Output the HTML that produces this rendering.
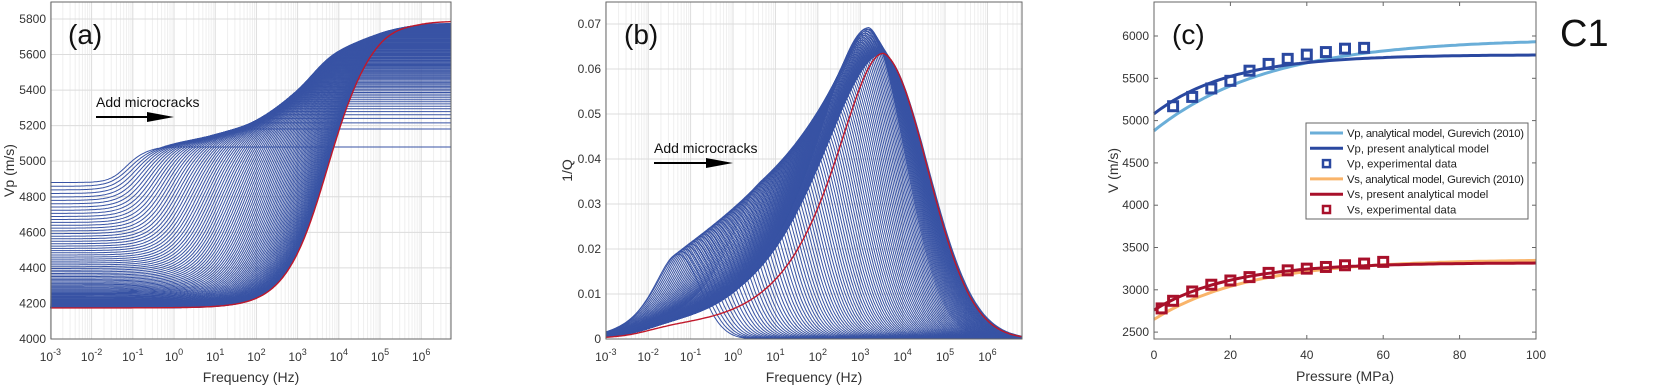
<!DOCTYPE html>
<html><head><meta charset="utf-8">
<style>
html,body{margin:0;padding:0;background:#fff;}
svg{display:block;font-family:"Liberation Sans",Arial,sans-serif;}
</style></head>
<body>
<svg id="s" width="1667" height="387" viewBox="0 0 1667 387" xmlns="http://www.w3.org/2000/svg"></svg>
<script>
const S=document.getElementById('s');let h='';
const BL='#3853a4';
function logistic(x){return 1/(1+Math.exp(-x));}
function softmin(a,b,k){return -k*Math.log(Math.exp(-a/k)+Math.exp(-b/k));}
function cr(vals,x0,x){let u=x-x0;if(u<=0)return vals[0];if(u>=vals.length-1)return vals[vals.length-1];
 const i=Math.floor(u),f=u-i;const p0=vals[Math.max(0,i-1)],p1=vals[i],p2=vals[i+1],p3=vals[Math.min(vals.length-1,i+2)];
 return 0.5*((2*p1)+(-p0+p2)*f+(2*p0-5*p1+4*p2-p3)*f*f+(-p0+3*p1-3*p2+p3)*f*f*f);}
// ---------- Panel (a) ----------
(function(){
 const L=51,R=451,T=2,B=339;
 const X=lf=>174+lf*41.2, Y=v=>339-(v-4000)*0.1778;
 for(let d=-3;d<7;d++){for(let k=1;k<10;k++){const x=X(d+Math.log10(k));if(x>R)break;
  h+=`<line x1="${x}" y1="${T}" x2="${x}" y2="${B}" stroke="${k==1?'#dcdcdc':'#efefef'}" stroke-width="1"/>`;}}
 for(let v=4000;v<=5800;v+=200){h+=`<line x1="${L}" y1="${Y(v)}" x2="${R}" y2="${Y(v)}" stroke="#dcdcdc"/>`;
  h+=`<text x="${L-5}" y="${Y(v)+4}" font-size="12" fill="#333" text-anchor="end">${v}</text>`;}
 for(let d=-3;d<=6;d++){h+=`<text x="${X(d)}" y="${B+22}" font-size="12" fill="#333" text-anchor="middle">10<tspan dy="-6" font-size="9">${d}</tspan></text>`;}
 const lmax=(R-174)/41.2;
 const EV=[5000,5025,5050,5100,5150,5230,5400,5650,5775,5790,5790];
 const N=100;
 for(let i=0;i<=N;i++){const t=i/N;
  const lo=4175+705*Math.pow(1-t,3), hi=5080+700*Math.pow(t,0.42);
  const c=-1.2+4.8*(1-Math.pow(1-t,1.5)), w=0.2+0.35*Math.sqrt(t);
  let p='';for(let lf=-3;lf<=lmax+0.001;lf+=0.04){
   const e=cr(EV,-3,lf);
   let v=lo+(e-lo)*logistic((lf-c)/w);
   if(i<N)v=softmin(v,hi,8);
   p+=(p?'L':'M')+X(lf).toFixed(1)+','+Y(v).toFixed(1);}
  h+=`<path d="${p}" fill="none" stroke="${i==N?'#c0182a':BL}" stroke-width="${i==N?1.4:1}"/>`;}
 h+=`<rect x="${L}" y="${T}" width="${R-L}" height="${B-T}" fill="none" stroke="#666"/>`;
 h+=`<text x="68" y="44" font-size="28" fill="#111">(a)</text>`;
 h+=`<text x="96" y="107" font-size="14" fill="#111">Add microcracks</text>`;
 h+=`<line x1="96" y1="117" x2="162" y2="117" stroke="#000" stroke-width="2"/><polygon points="174,117 147,112 147,122" fill="#000"/>`;
 h+=`<text x="${(L+R)/2}" y="382" font-size="14" fill="#333" text-anchor="middle">Frequency (Hz)</text>`;
 h+=`<text transform="translate(14,${(T+B)/2}) rotate(-90)" font-size="14" fill="#333" text-anchor="middle">Vp (m/s)</text>`;
})();
// ---------- Panel (b) ----------
(function(){
 const L=606,R=1022,T=2,B=339;
 const X=lf=>733+lf*42.4, Y=v=>339-v*4500;
 for(let d=-3;d<7;d++){for(let k=1;k<10;k++){const x=X(d+Math.log10(k));if(x>R)break;
  h+=`<line x1="${x}" y1="${T}" x2="${x}" y2="${B}" stroke="${k==1?'#dcdcdc':'#efefef'}"/>`;}}
 for(let i=0;i<=7;i++){const v=i/100;h+=`<line x1="${L}" y1="${Y(v)}" x2="${R}" y2="${Y(v)}" stroke="#dcdcdc"/>`;
  h+=`<text x="${L-5}" y="${Y(v)+4}" font-size="12" fill="#333" text-anchor="end">${i==0?'0':v.toFixed(2)}</text>`;}
 for(let d=-3;d<=6;d++){h+=`<text x="${X(d)}" y="${B+22}" font-size="12" fill="#333" text-anchor="middle">10<tspan dy="-6" font-size="9">${d}</tspan></text>`;}
 const lmax=(R-733)/42.4;
 function Pk(c){if(c<=3.2)return 0.027+0.0068*c+0.0008*c*c+0.0003*c*c*c;return 0.0668-(c-3.2)/0.35*0.0058;}
 const N=120;
 for(let i=0;i<=N;i++){const t=i/N;const red=i==N;
  const c=-1.3+4.85*(1-Math.pow(1-t,2));
  const P=red?0.061:Pk(c);
  const kl=red?0.95:1.9-1.2*Math.sqrt(t), kr=red?0.95:1.9-0.98*t;
  let p='';for(let lf=-3;lf<=lmax+0.001;lf+=0.04){const d=lf-c;
   let v=d<0?P/Math.cosh(kl*d):P*Math.exp(-(kr*d)*(kr*d)/2);
   v+=0.0025*logistic((lf+2)/0.35)*Math.exp(-Math.max(0,lf-c)/0.6)*(red?1:Math.min(1,t*4));
   p+=(p?'L':'M')+X(lf).toFixed(1)+','+Y(v).toFixed(1);}
  h+=`<path d="${p}" fill="none" stroke="${red?'#c0182a':BL}" stroke-width="${red?1.4:1}"/>`;}
 h+=`<rect x="${L}" y="${T}" width="${R-L}" height="${B-T}" fill="none" stroke="#666"/>`;
 h+=`<text x="624" y="44" font-size="28" fill="#111">(b)</text>`;
 h+=`<text x="654" y="153" font-size="14" fill="#111">Add microcracks</text>`;
 h+=`<line x1="654" y1="163" x2="720" y2="163" stroke="#000" stroke-width="2"/><polygon points="733,163 706,158 706,168" fill="#000"/>`;
 h+=`<text x="${(L+R)/2}" y="382" font-size="14" fill="#333" text-anchor="middle">Frequency (Hz)</text>`;
 h+=`<text transform="translate(572,${(T+B)/2}) rotate(-90)" font-size="14" fill="#333" text-anchor="middle">1/Q</text>`;
})();
// ---------- Panel (c) ----------
(function(){
 const L=1154,R=1536,T=2,B=339;
 const X=p=>L+p*3.82, Y=v=>36+(6000-v)*0.0846;
 for(let v=2500;v<=6000;v+=500){h+=`<text x="${L-5}" y="${Y(v)+4}" font-size="12" fill="#333" text-anchor="end">${v}</text>`;
  h+=`<line x1="${L}" y1="${Y(v)}" x2="${L+4}" y2="${Y(v)}" stroke="#666"/><line x1="${R-4}" y1="${Y(v)}" x2="${R}" y2="${Y(v)}" stroke="#666"/>`;}
 for(let p=0;p<=100;p+=20){h+=`<text x="${X(p)}" y="${B+20}" font-size="12" fill="#333" text-anchor="middle">${p}</text>`;
  h+=`<line x1="${X(p)}" y1="${B}" x2="${X(p)}" y2="${B-4}" stroke="#666"/><line x1="${X(p)}" y1="${T}" x2="${X(p)}" y2="${T+4}" stroke="#666"/>`;}
 function curve(f,col){let p='';for(let q=0;q<=100;q+=1){p+=(p?'L':'M')+X(q).toFixed(1)+','+Y(f(q)).toFixed(1);}h+=`<path d="${p}" fill="none" stroke="${col}" stroke-width="3"/>`;}
 curve(q=>4880+1090*(1-Math.exp(-q/30)),'#6aaed8');
 curve(q=>5080+700*(1-Math.exp(-q/20)),'#2a48a0');
 curve(q=>2650+710*(1-Math.exp(-q/25)),'#f9b46a');
 curve(q=>2760+560*(1-Math.exp(-q/20)),'#a8102a');
 function sq(q,v,col){const x=X(q),y=Y(v);h+=`<rect x="${x-4.5}" y="${y-4.5}" width="9" height="9" fill="none" stroke="${col}" stroke-width="3"/>`;}
 [[5,5170],[10,5280],[15,5380],[20,5470],[25,5590],[30,5670],[35,5730],[40,5780],[45,5810],[50,5850],[55,5860]].forEach(a=>sq(a[0],a[1],'#2a48a0'));
 [[2,2780],[5,2870],[10,2980],[15,3060],[20,3110],[25,3150],[30,3200],[35,3230],[40,3250],[45,3270],[50,3290],[55,3310],[60,3330]].forEach(a=>sq(a[0],a[1],'#a8102a'));
 h+=`<rect x="${L}" y="${T}" width="${R-L}" height="${B-T}" fill="none" stroke="#666"/>`;
 h+=`<rect x="1306" y="123" width="222" height="96" fill="#fff" stroke="#666"/>`;
 const ent=[['l','#6aaed8','Vp, analytical model, Gurevich (2010)'],['l','#2a48a0','Vp, present analytical model'],['s','#2a48a0','Vp, experimental data'],['l','#f9b46a','Vs, analytical model, Gurevich (2010)'],['l','#a8102a','Vs, present analytical model'],['s','#a8102a','Vs, experimental data']];
 ent.forEach((e,i)=>{const y=133+i*15.3;
  if(e[0]=='l')h+=`<line x1="1310" y1="${y}" x2="1343" y2="${y}" stroke="${e[1]}" stroke-width="3"/>`;
  else h+=`<rect x="1323" y="${y-3.5}" width="7" height="7" fill="none" stroke="${e[1]}" stroke-width="2.5"/>`;
  const tl=(i==0||i==3)?' textLength="177"':'';
  h+=`<text x="1347" y="${y+4}" font-size="11.3" fill="#222"${tl}>${e[2]}</text>`;});
 h+=`<text x="1172" y="44" font-size="28" fill="#111">(c)</text>`;
 h+=`<text x="${(L+R)/2}" y="381" font-size="14" fill="#333" text-anchor="middle">Pressure (MPa)</text>`;
 h+=`<text transform="translate(1118,${(T+B)/2}) rotate(-90)" font-size="14" fill="#333" text-anchor="middle">V (m/s)</text>`;
 h+=`<text x="1560" y="46" font-size="38" fill="#111">C1</text>`;
})();
S.innerHTML=h;
</script>
</body></html>
